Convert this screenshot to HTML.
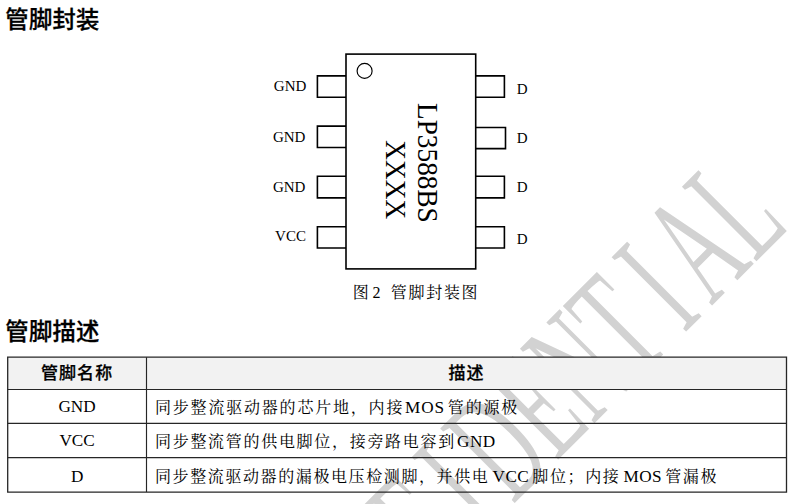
<!DOCTYPE html>
<html lang="zh-CN">
<head>
<meta charset="utf-8">
<title>管脚封装</title>
<style>
html,body{margin:0;padding:0;background:#fff;}
body{width:793px;height:504px;position:relative;overflow:hidden;
  font-family:"Liberation Serif","Noto Serif CJK SC",serif;color:#000;}
.abs{position:absolute;white-space:nowrap;line-height:1;}
h1.hd{position:absolute;margin:0;white-space:nowrap;line-height:1;
  font-family:"Liberation Sans","Noto Sans CJK SC",sans-serif;font-weight:500;
  font-size:23.3px;letter-spacing:0.3px;color:#000;-webkit-text-stroke:0.3px #000;}
#wm{position:absolute;left:0;top:0;width:793px;height:504px;z-index:0;}
#chip{position:absolute;left:0;top:0;width:793px;height:320px;z-index:1;}
.lbl{font-family:"Liberation Serif",serif;font-size:15px;}
.cap{font-family:"Liberation Serif","Noto Serif CJK SC",serif;font-size:16px;left:352.8px;top:285.2px;letter-spacing:1.7px;z-index:2;}
.cap b{font-weight:400;margin-left:-3.8px;margin-right:3px;}
#grid{position:absolute;left:0;top:340px;width:793px;height:164px;z-index:1;}
table{position:absolute;left:7.7px;top:357.2px;border-collapse:separate;border-spacing:0;z-index:2;table-layout:fixed;width:778.8px;}
td,th{border:0;padding:0;font-size:16px;line-height:1;vertical-align:middle;white-space:nowrap;box-sizing:border-box;}
th{font-family:"Liberation Sans","Noto Sans CJK SC",sans-serif;font-weight:500;font-size:17px;letter-spacing:1.1px;text-align:center;-webkit-text-stroke:0.25px #000;}
tr.r0{height:32.3px;} tr.r1{height:33.9px;} tr.r2{height:34.2px;} tr.r3{height:34.5px;}
td.c1{text-align:center;font-family:"Liberation Serif",serif;font-size:17.2px;}
td.c2{text-align:left;padding-left:8.5px;letter-spacing:1.7px;}
td.c2 span{letter-spacing:0.4px;font-size:17.2px;word-spacing:-1.5px;}
td i,th i{font-style:normal;position:relative;display:inline-block;}
</style>
</head>
<body>

<svg id="wm" viewBox="0 0 793 504">
  <g transform="translate(756.4,261.3) rotate(-45.0) scale(0.52,1)">
    <text y="0" x="-1204.4 -1100.4 -991.2 -867.2 -741.1 -662.2 -543.6 -445.1 -326.7 -197.0 -121.8 -4.3" font-family="Liberation Serif, serif" font-size="160.8" fill="#d2d2d2">CONFIDENTIAL</text>
  </g>
</svg>

<h1 class="hd" style="left:5.3px;top:8.5px;">管脚封装</h1>

<svg id="chip" viewBox="0 0 793 320">
  <g fill="none" stroke="#000" stroke-width="1.6">
    <rect x="346" y="54.1" width="129.7" height="214.8"/>
    <path d="M346 75.9H317.4V97.2H346M346 126.1H317.4V147.5H346M346 176.3H317.4V197.9H346M346 226.8H317.4V248H346"/>
    <path d="M475.7 75.9H504.4V97.2H475.7M475.7 127.5H505.5V148.6H475.7M475.7 176.3H504.4V197.9H475.7M475.7 226.8H504.4V248H475.7"/>
    <circle cx="364.6" cy="70.9" r="7.5" stroke-width="1.15"/>
  </g>
  <g font-family="Liberation Serif, serif" font-size="15" fill="#000">
    <text x="273.8" y="91.4">GND</text>
    <text x="272.9" y="141.9">GND</text>
    <text x="272.9" y="192.1">GND</text>
    <text x="275.1" y="241.3">VCC</text>
    <text x="516.7" y="94.1">D</text>
    <text x="516.8" y="143">D</text>
    <text x="516.7" y="191.8">D</text>
    <text x="516.8" y="243.6">D</text>
  </g>
  <g font-family="Liberation Serif, serif" font-size="27.3" fill="#000">
    <text transform="translate(417.6,103) rotate(90) scale(1,1.11)" x="0" y="0">LP3588BS</text>
    <text transform="translate(386.4,140.3) rotate(90) scale(1,1.11)" x="0" y="0">XXXX</text>
  </g>
</svg>

<div class="abs cap">图 <b>2</b> 管脚封装图</div>

<h1 class="hd" style="left:5.3px;top:320.5px;">管脚描述</h1>

<svg id="grid" viewBox="0 340 793 164">
  <rect x="7.7" y="357.2" width="778.8" height="32.3" fill="#f2f2f2"/>
  <g fill="none" stroke="#262626" stroke-width="1.3">
    <path d="M7.7 356.55V492.75M786.5 356.55V492.75M7.7 357.2H786.5M7.7 492.1H786.5"/>
    <path d="M146.5 357.2V492.1M7.7 389.5H786.5M7.7 423.4H786.5M7.7 457.6H786.5" stroke-width="1.15"/>
  </g>
</svg>

<table>
  <colgroup><col style="width:138.8px"><col style="width:640px"></colgroup>
  <tr class="r0"><th><i style="top:0px">管脚名称</i></th><th><i style="top:0px">描述</i></th></tr>
  <tr class="r1"><td class="c1"><i style="top:0.6px">GND</i></td><td class="c2"><i style="top:0.9px;letter-spacing:1.8px">同步整流驱动器的芯片地，内接<span style="word-spacing:-2.6px;letter-spacing:1px;margin-left:-2px"> MOS </span>管的源极</i></td></tr>
  <tr class="r2"><td class="c1"><i style="top:0.4px">VCC</i></td><td class="c2"><i style="top:1px;letter-spacing:1.7px">同步整流管的供电脚位，接旁路电容到<span style="word-spacing:-3.5px"> GND</span></i></td></tr>
  <tr class="r3"><td class="c1"><i style="top:1.3px">D</i></td><td class="c2"><i style="top:2.2px;letter-spacing:1.6px">同步整流驱动器的漏极电压检测脚，并供电<span> VCC </span>脚位；内接<span> MOS </span>管漏极</i></td></tr>
</table>


</body>
</html>
